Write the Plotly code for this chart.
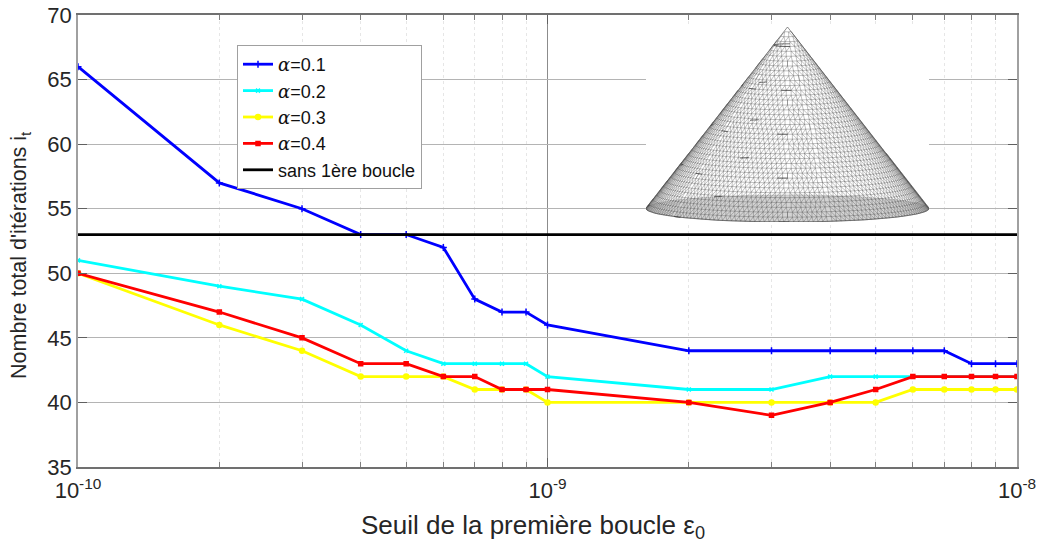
import numpy as np
import plotly.graph_objects as go

thresholds = [1e-10,2e-10,3e-10,4e-10,5e-10,6e-10,7e-10,8e-10,9e-10,
              1e-9,2e-9,3e-9,4e-9,5e-9,6e-9,7e-9,8e-9,9e-9,1e-8]
alpha_01 = [66,57,55,53,53,52,48,47,47,46,44,44,44,44,44,44,43,43,43]
alpha_02 = [51,49,48,46,44,43,43,43,43,42,41,41,42,42,42,42,42,42,42]
alpha_03 = [50,46,44,42,42,42,41,41,41,40,40,40,40,40,41,41,41,41,41]
alpha_04 = [50,47,45,43,43,42,42,41,41,41,40,39,40,41,42,42,42,42,42]
sans_boucle = [53]*19
x_major = [1e-10,1e-9,1e-8]
x_major_text = ["10<sup>-10</sup>","10<sup>-9</sup>","10<sup>-8</sup>"]
x_minor = [m*10.0**e for e in (-10,-9) for m in range(2,10)]
y_ticks = [35,40,45,50,55,60,65,70]

W,H = 1041,547
L,R,T,B = 78,1017,15,467
PW,PH = R-L,B-T
TXT = "#262626"
FONT = "Liberation Sans, Arial, sans-serif"

def a(v):
    return f'<span style="font-family:\'DejaVu Serif\',serif;font-style:italic">α</span>={v}'

fig = go.Figure()
series = [(a(0.1),alpha_01,"#0000ff","cross-thin",5),
          (a(0.2),alpha_02,"#00ffff","x-thin",4),
          (a(0.3),alpha_03,"#ffff00","circle",5),
          (a(0.4),alpha_04,"#ff0000","square",4)]
for name,vals,col,sym,sz in series:
    fig.add_trace(go.Scatter(x=thresholds,y=vals,name=name,mode="lines+markers",
        line=dict(color=col,width=2.8),
        marker=dict(symbol=sym,size=sz,color=col,line=dict(color=col,width=1.5))))
fig.add_trace(go.Scatter(x=thresholds,y=sans_boucle,name="sans 1ère boucle",mode="lines",
    line=dict(color="black",width=2.8)))

# Decorative inset: wireframe cone, in unit coordinates (radius 1, height 1)
RINGS = 40
SEG = 0.72
ratio = 0.075
def ring_xy(v,t):
    return v*np.cos(t), (1-v) - ratio*v*np.sin(t)
xs,ys = [],[]
xd,yd = [],[]
for i in range(1,RINGS+1):
    v = i/RINGS
    n = max(3,int(round(2*np.pi*v*RINGS*SEG)))
    tt = np.linspace(0,2*np.pi,n+1)
    px,py = ring_xy(v,tt)
    front = np.sin(tt)>=-0.05
    for k in range(n):
        if front[k] and front[k+1]:
            xs += [px[k],px[k+1],None]; ys += [py[k],py[k+1],None]
    if i<RINGS:
        v2 = (i+1)/RINGS
        n2 = max(3,int(round(2*np.pi*v2*RINGS*SEG)))
        for k in range(n):
            if not front[k]: continue
            j = tt[k]/(2*np.pi)*n2
            for jj in (np.floor(j),np.ceil(j)):
                qx,qy = ring_xy(v2,jj/n2*2*np.pi)
                xs += [px[k],qx,None]; ys += [py[k],qy,None]
    if i%9==4:
        m = n//4
        for k in range(m,m+n//2,n//7 or 1):
            xd += [px[k],px[min(k+2,n)],None]; yd += [py[k],py[min(k+2,n)],None]
bx,by = ring_xy(1.0,np.linspace(0,np.pi,80))
fig.add_trace(go.Scatter(x=[0]+list(bx)+[0],y=[1]+list(by)+[1],mode="lines",fill="toself",
    fillcolor="white",line=dict(color="rgba(80,80,80,0.8)",width=0.8),
    xaxis="x2",yaxis="y2",showlegend=False,hoverinfo="skip"))
ex,ey = ring_xy(1.0,np.linspace(0,2*np.pi,120))
fig.add_trace(go.Scatter(x=ex,y=ey,mode="lines",fill="toself",fillcolor="rgba(110,110,110,0.3)",
    line=dict(color="rgba(110,110,110,0.35)",width=0.6),
    xaxis="x2",yaxis="y2",showlegend=False,hoverinfo="skip"))
fig.add_trace(go.Scatter(x=xs,y=ys,mode="lines",line=dict(color="rgba(75,75,75,0.58)",width=0.6),
    xaxis="x2",yaxis="y2",showlegend=False,hoverinfo="skip"))
fig.add_trace(go.Scatter(x=xd,y=yd,mode="lines",line=dict(color="rgba(40,40,40,0.8)",width=0.8),
    xaxis="x2",yaxis="y2",showlegend=False,hoverinfo="skip"))

fig.update_layout(
    width=W,height=H,autosize=False,
    margin=dict(l=L,r=W-R,t=T,b=H-B,autoexpand=False),
    paper_bgcolor="white",plot_bgcolor="white",
    font=dict(family=FONT,color=TXT,size=22),
    xaxis=dict(type="log",range=[-10,-8],tickmode="array",tickvals=x_major,ticktext=x_major_text,
        ticks="inside",ticklen=9,tickcolor="#606060",tickfont=dict(size=22,color=TXT),
        ticklabelstandoff=3,
        showgrid=True,gridcolor="#8c8c8c",gridwidth=1,
        showline=True,linecolor="#707070",linewidth=1.5,mirror="ticks",
        zeroline=False,automargin=False,
        minor=dict(tickmode="array",tickvals=x_minor,ticks="inside",ticklen=5,tickcolor="#808080",
                   showgrid=True,gridcolor="#e6e6e6",griddash="dot",gridwidth=1)),
    yaxis=dict(range=[35,70],tickmode="array",tickvals=y_ticks,
        ticks="inside",ticklen=9,tickcolor="#606060",tickfont=dict(size=22,color=TXT),
        showgrid=True,gridcolor="#b4b4b4",gridwidth=1,
        showline=True,linecolor="#a0a0a0",linewidth=1.5,mirror="ticks",zeroline=False,automargin=False),
    xaxis2=dict(domain=[(646-L)/PW,(929-L)/PW],range=[-1,1],visible=False,anchor="y2",fixedrange=True),
    yaxis2=dict(domain=[(B-222)/PH,(B-27)/PH],range=[-ratio,1],visible=False,anchor="x2",fixedrange=True),
    legend=dict(x=(237-L)/PW,y=(B-45)/PH,xanchor="left",yanchor="top",
        bgcolor="white",bordercolor="#a0a0a0",borderwidth=1,
        font=dict(size=18,color="#111111",family=FONT),itemwidth=30,tracegroupgap=0),
    showlegend=True,
    annotations=[
        dict(text="Seuil de la première boucle ε<sub>0</sub>",xref="paper",yref="paper",
             x=(532.5-L)/PW,y=-(526-B)/PH,xanchor="center",yanchor="middle",showarrow=False,
             font=dict(size=26,color=TXT,family=FONT)),
        dict(text="Nombre total d'itérations i<sub>t</sub>",xref="paper",yref="paper",
             x=(21-L)/PW,y=(B-255)/PH,xanchor="center",yanchor="middle",showarrow=False,textangle=-90,
             font=dict(size=21.5,color=TXT,family=FONT)),
    ],
)
fig.write_html("out.html",post_script="document.body.style.margin='0';",config=dict(displayModeBar=False))
